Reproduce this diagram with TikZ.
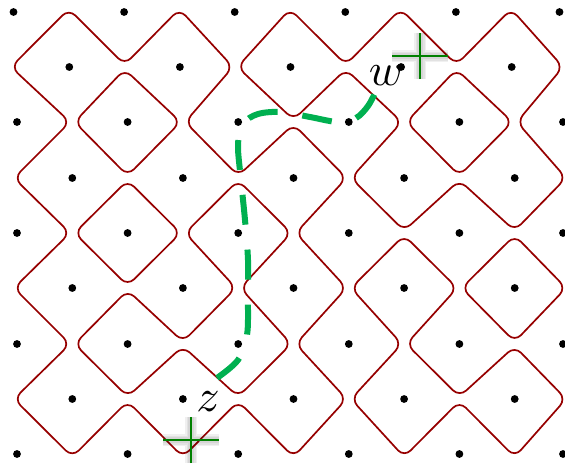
\documentclass[tikz,border=0pt]{standalone}
\usetikzlibrary{calc}
\definecolor{loopred}{RGB}{150,0,0}
\definecolor{pathgreen}{RGB}{0,176,80}
\definecolor{crossgreen}{RGB}{0,128,0}
\def\xlist{{17,72.3,127.6,182.9,238.2,293.5,348.8,404.1,459.4,514.7,563}}
\def\rowshift{{-3.5,-3,0,0,0,0,0,0,0}}
\def\ylist{{12,67,122,178,233,288,344,399,454}}
\def\dd{2.3}   % interior offset of a turn from its site
\def\db{-3}    % boundary offset
\def\Vsites{1/2,1/6,1/8,2/5,3/2,3/4,3/8,4/7,4/9,5/2,6/3,6/9,7/2,7/4,7/8}
\def\Hsites{1/4,2/1,2/3,2/7,2/9,3/6,4/1,4/3,4/5,5/4,5/6,5/8,6/1,6/5,6/7,7/6}
\tikzset{
  loopline/.style={draw=loopred, line width=1.7pt, rounded corners=9pt, line cap=round},
  dot/.style={fill=black},
  greenpath/.style={draw=pathgreen, line width=6pt, dash pattern=on 30pt off 25pt},
  crossline/.style={draw=crossgreen, line width=2.8pt},
  crossglow/.style={draw=black, opacity=.06, line width=#1},
  lbl/.style={inner sep=0pt, scale=4.6},
}
\newcommand\siteidx[2]{\pgfmathtruncatemacro\rA{#1-1}\pgfmathtruncatemacro\rB{#1+1}\pgfmathtruncatemacro\cA{#2-1}\pgfmathtruncatemacro\cB{#2+1}}
% anchors: where each turn of a curve sits
\newcommand\anchorsall[4]{% r c dx dy : all four the same
  \coordinate (a-#1-#2-UL) at ($(p-#1-#2)+(#3,#4)$);
  \coordinate (a-#1-#2-UR) at ($(p-#1-#2)+(#3,#4)$);
  \coordinate (a-#1-#2-DL) at ($(p-#1-#2)+(#3,#4)$);
  \coordinate (a-#1-#2-DR) at ($(p-#1-#2)+(#3,#4)$);}
\newcommand\anchorsV[2]{%
  \coordinate (a-#1-#2-UL) at ($(p-#1-#2)+(0,-\dd)$);
  \coordinate (a-#1-#2-UR) at ($(p-#1-#2)+(0,-\dd)$);
  \coordinate (a-#1-#2-DL) at ($(p-#1-#2)+(0,\dd)$);
  \coordinate (a-#1-#2-DR) at ($(p-#1-#2)+(0,\dd)$);}
\newcommand\anchorsH[2]{%
  \coordinate (a-#1-#2-UL) at ($(p-#1-#2)+(-\dd,0)$);
  \coordinate (a-#1-#2-DL) at ($(p-#1-#2)+(-\dd,0)$);
  \coordinate (a-#1-#2-UR) at ($(p-#1-#2)+(\dd,0)$);
  \coordinate (a-#1-#2-DR) at ($(p-#1-#2)+(\dd,0)$);}
\newcommand\upcurve[2]{\siteidx{#1}{#2}\draw[loopline] ($(a-#1-#2-UL)!.5!(a-\rA-\cA-DR)$) -- (a-#1-#2-UL) -- ($(a-#1-#2-UR)!.5!(a-\rA-\cB-DL)$);}
\newcommand\lowcurve[2]{\siteidx{#1}{#2}\draw[loopline] ($(a-#1-#2-DL)!.5!(a-\rB-\cA-UR)$) -- (a-#1-#2-DL) -- ($(a-#1-#2-DR)!.5!(a-\rB-\cB-UL)$);}
\newcommand\leftcurve[2]{\siteidx{#1}{#2}\draw[loopline] ($(a-#1-#2-UL)!.5!(a-\rA-\cA-DR)$) -- (a-#1-#2-UL) -- ($(a-#1-#2-DL)!.5!(a-\rB-\cA-UR)$);}
\newcommand\rightcurve[2]{\siteidx{#1}{#2}\draw[loopline] ($(a-#1-#2-UR)!.5!(a-\rA-\cB-DL)$) -- (a-#1-#2-UR) -- ($(a-#1-#2-DR)!.5!(a-\rB-\cB-UL)$);}
\begin{document}
\begin{tikzpicture}[x=1pt,y=-1pt]
\useasboundingbox (0,0) rectangle (565,466);
\clip (0,0) rectangle (565,466);
% lattice points
\foreach \r in {0,...,8}{
  \foreach \c in {0,...,10}{
    \pgfmathsetmacro{\xx}{\xlist[\c]+\rowshift[\r]}
    \pgfmathsetmacro{\yy}{\ylist[\r]}
    \coordinate (p-\r-\c) at (\xx,\yy);
  }
}
% anchors
\foreach \r/\c in \Vsites {\anchorsV{\r}{\c}}
\foreach \r/\c in \Hsites {\anchorsH{\r}{\c}}
\foreach \c in {1,3,5,7,9}{\anchorsall{0}{\c}{0}{\db}\anchorsall{8}{\c}{0}{-\db}}
\foreach \r in {1,3,5,7}{\anchorsall{\r}{0}{\db}{0}\anchorsall{\r}{10}{-\db}{0}}
% loops
\foreach \r/\c in \Vsites {\upcurve{\r}{\c}\lowcurve{\r}{\c}}
\foreach \r/\c in \Hsites {\leftcurve{\r}{\c}\rightcurve{\r}{\c}}
\foreach \c in {1,3,5,7,9}{\lowcurve{0}{\c}\upcurve{8}{\c}}
\foreach \r in {1,3,5,7}{\rightcurve{\r}{0}\leftcurve{\r}{10}}
% dots
\foreach \r in {0,...,8}{
  \foreach \c in {0,...,10}{
    \pgfmathtruncatemacro\pp{mod(\r+\c,2)}
    \ifnum\pp=0 \fill[dot] (p-\r-\c) circle (3.9pt);\fi
  }
}
% green dashed path
\coordinate (zend) at (217,378);
\coordinate (wend) at (376,91);
\draw[greenpath] plot[smooth, tension=0.55] coordinates {(zend) (238,360) (247,335) (248,300) (248,260) (245,220) (241,180) (238,145) (243,124) (258,114) (282,112) (310,117) (338,122) (356,118) (368,106) (wend)};
% crosses
\coordinate (wc) at (420,56);
\coordinate (zc) at (191,440);
\foreach \pt in {wc,zc}{
  \foreach \w in {12,9,6}{
    \draw[crossglow=\w pt] ([xshift=-28pt]\pt) -- ([xshift=28pt]\pt) ([yshift=-23pt]\pt) -- ([yshift=23pt]\pt);
  }
  \draw[crossline] ([xshift=-28pt]\pt) -- ([xshift=28pt]\pt) ([yshift=-23pt]\pt) -- ([yshift=23pt]\pt);
}
% labels
\node[lbl] (wlab) at (386,76) {$w$};
\node[lbl] (zlab) at (208,402) {$z$};
\end{tikzpicture}
\end{document}
